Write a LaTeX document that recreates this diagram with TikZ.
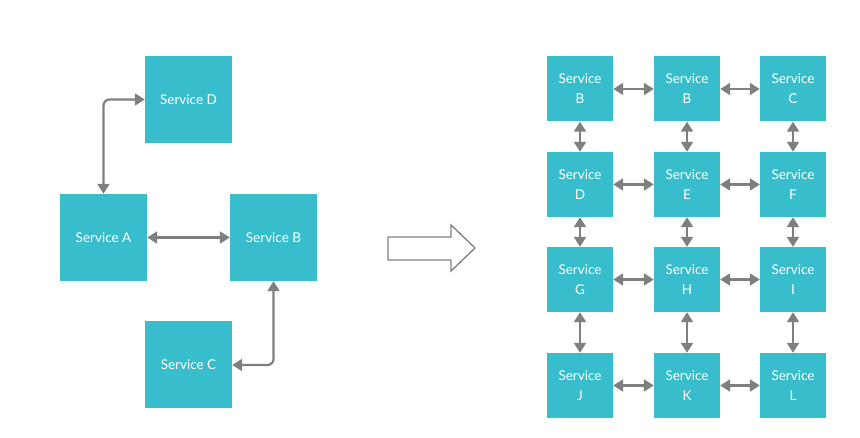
\documentclass[tikz,border=0pt]{standalone}
\usepackage{fontspec}
\setmainfont{Lato}
\usetikzlibrary{arrows.meta}
\definecolor{svcteal}{HTML}{38BDCD}
\definecolor{linkgray}{HTML}{7F7F7F}
\tikzset{
    svc/.style={
        fill=svcteal,
        text=white,
        inner sep=0pt,
        align=center,
        font=\fontsize{13.5}{20}\selectfont
    },
    bigsvc/.style={svc,minimum size=87pt},
    smallsvc/.style={svc,minimum width=66pt,minimum height=65pt},
    link/.style={
        draw=linkgray,
        line width=2.2pt,
        {Triangle[length=10pt,width=12pt]}-{Triangle[length=10pt,width=12pt]}
    }
}
\begin{document}
\begin{tikzpicture}[x=1pt,y=-1pt]
    \useasboundingbox (0,0) rectangle (860,438);
    % left side
    \node[bigsvc] (D) at (188.5, 99.5) {Service D};
    \node[bigsvc] (A) at (103.5,237.5) {Service A};
    \node[bigsvc] (B) at (273.5,237.5) {Service B};
    \node[bigsvc] (C) at (188.5,365) {Service C};
    \draw[link,rounded corners=6pt] (A.north) |- (D.west);
    \draw[link] (A) -- (B);
    \draw[link,rounded corners=6pt] (B.south) |- (C.east);
    % big arrow
    \draw[linkgray,line width=1.3pt] (388,237) -- (451,237) -- (451,225) -- (475,248)
        -- (451,271) -- (451,260) -- (388,260) -- cycle;
    % right side
    \foreach \r/\y in {1/89,2/184.5,3/279.5,4/385.5}
    \foreach \c/\x in {1/580,2/687,3/793}
        \coordinate (p\r\c) at (\x,\y);
    \foreach \r/\c/\l in {
        1/1/B,1/2/B,1/3/C,
        2/1/D,2/2/E,2/3/F,
        3/1/G,3/2/H,3/3/I,
        4/1/J,4/2/K,4/3/L
    }
        \node[smallsvc] (s\r\c) at (p\r\c) {Service\\\l};
    \foreach \r in {1,...,4}
    \foreach \c/\d in {1/2,2/3}
        \draw[link] (s\r\c) -- (s\r\d);
    \foreach \r/\q in {1/2,2/3,3/4}
    \foreach \c in {1,2,3}
        \draw[link] (s\r\c) -- (s\q\c);
\end{tikzpicture}
\end{document}
